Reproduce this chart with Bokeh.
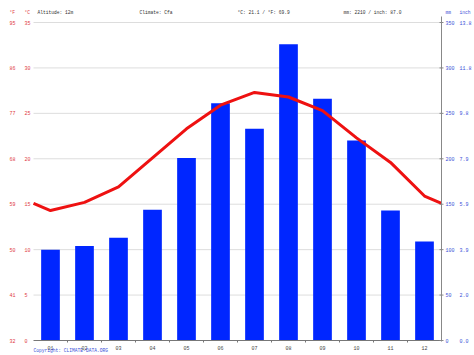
from bokeh.plotting import figure
from bokeh.models import Range1d
from bokeh.core.properties import value
from bokeh.embed import file_html
from bokeh.resources import INLINE

months = ["01", "02", "03", "04", "05", "06", "07", "08", "09", "10", "11", "12"]
temp_c = [14.3, 15.2, 16.9, 20.1, 23.3, 25.9, 27.3, 26.8, 25.3, 22.3, 19.6, 15.9]
precip_mm = [100, 104, 113, 144, 201, 261, 233, 326, 266, 220, 143, 109]

c_ticks = [0, 5, 10, 15, 20, 25, 30, 35]
f_labels = ["32", "41", "50", "59", "68", "77", "86", "95"]
mm_ticks = [0, 50, 100, 150, 200, 250, 300, 350]
inch_labels = ["0.0", "2.0", "3.9", "5.9", "7.9", "9.8", "11.8", "13.8"]

header_left = ["°F", "°C", "Altitude: 12m", "Climate: Cfa", "°C: 21.1 / °F: 69.9",
               "mm: 2210 / inch: 87.0"]
header_right = ["mm", "inch"]
copyright_text = "Copyright: CLIMATE-DATA.ORG"

FONT = value("Liberation Mono")
RED_T = "#e0393e"
BLUE_T = "#3a4fd8"
GRAY_T = "#333333"

W, H = 474, 355
FL, FR, FT, FB = 33, 441, 22, 340   # plot area in pixels


def X(px):
    return 0.5 + (px - FL) * 12.0 / (FR - FL)


def C(py):
    return (FB - py) * 35.0 / (FB - FT)


p = figure(width=W, height=H, output_backend="svg", toolbar_location=None,
           x_range=Range1d(X(0), X(W)), y_range=Range1d(C(H), C(0)),
           min_border=0, outline_line_color=None,
           background_fill_color="white", border_fill_color="white")
p.extra_y_ranges = {"mm": Range1d(C(H) * 10, C(0) * 10)}
p.axis.visible = False
p.grid.visible = False

# horizontal grid
p.segment(x0=[X(FL)] * 7, x1=[X(FR)] * 7, y0=c_ticks[1:], y1=c_ticks[1:],
          line_color="#dddddd", line_width=1)

# bars
p.vbar(x=list(range(1, 13)), top=precip_mm, width=0.55, bottom=0,
       y_range_name="mm", fill_color="#0026ff", line_color=None)

# temperature line wrapped to plot edges
edge = (temp_c[0] + temp_c[-1]) / 2
p.line(x=[0.5] + list(range(1, 13)) + [12.5], y=[edge] + temp_c + [edge],
       line_color="#ee1111", line_width=3, line_join="round")

# bottom axis
p.segment(x0=[X(FL)], x1=[X(FR)], y0=[0], y1=[0], line_color="#777777")
bx = [i + 0.5 for i in range(1, 12)]
p.segment(x0=bx, x1=bx, y0=[0] * 11, y1=[C(FB + 2)] * 11, line_color="#777777")
p.text(x=list(range(1, 13)), y=[C(347)] * 12, text=months, text_font=FONT,
       text_font_size="5px", text_color="#444444", text_align="center",
       text_baseline="middle")

# right axis
p.segment(x0=[12.5], x1=[12.5], y0=[C(FB + 1)], y1=[C(16)], line_color="#888888")
p.segment(x0=[X(FR - 2)] * 8, x1=[X(FR + 2)] * 8, y0=mm_ticks, y1=mm_ticks,
          y_range_name="mm", line_color="#888888")
p.text(x=[X(445)] * 8, y=mm_ticks, text=[str(v) for v in mm_ticks],
       y_range_name="mm", text_font=FONT, text_font_size="5px",
       text_color=BLUE_T, text_baseline="middle")
p.text(x=[X(459)] * 8, y=mm_ticks, text=inch_labels, y_range_name="mm",
       text_font=FONT, text_font_size="5px", text_color=BLUE_T,
       text_baseline="middle")

# left labels
p.text(x=[X(9)] * 8, y=c_ticks, text=f_labels, text_font=FONT,
       text_font_size="5px", text_color=RED_T, text_baseline="middle")
p.text(x=[X(24)] * 8, y=c_ticks, text=[str(v) for v in c_ticks], text_font=FONT,
       text_font_size="5px", text_color=RED_T, text_baseline="middle")

# header
hx = [9, 24, 37, 139, 237, 343]
hc = [RED_T, RED_T, GRAY_T, GRAY_T, GRAY_T, GRAY_T]
p.text(x=[X(v) for v in hx], y=[C(12)] * 6, text=header_left, text_font=FONT,
       text_font_size="4.6px", text_color=hc, text_baseline="middle")
p.text(x=[X(445), X(459)], y=[C(12)] * 2, text=header_right, text_font=FONT,
       text_font_size="4.6px", text_color=BLUE_T, text_baseline="middle")

# copyright
p.text(x=[X(33)], y=[C(350)], text=[copyright_text], text_font=FONT,
       text_font_size="4.6px", text_color=BLUE_T, text_baseline="middle")

open("out.html", "w").write(file_html(p, INLINE))
